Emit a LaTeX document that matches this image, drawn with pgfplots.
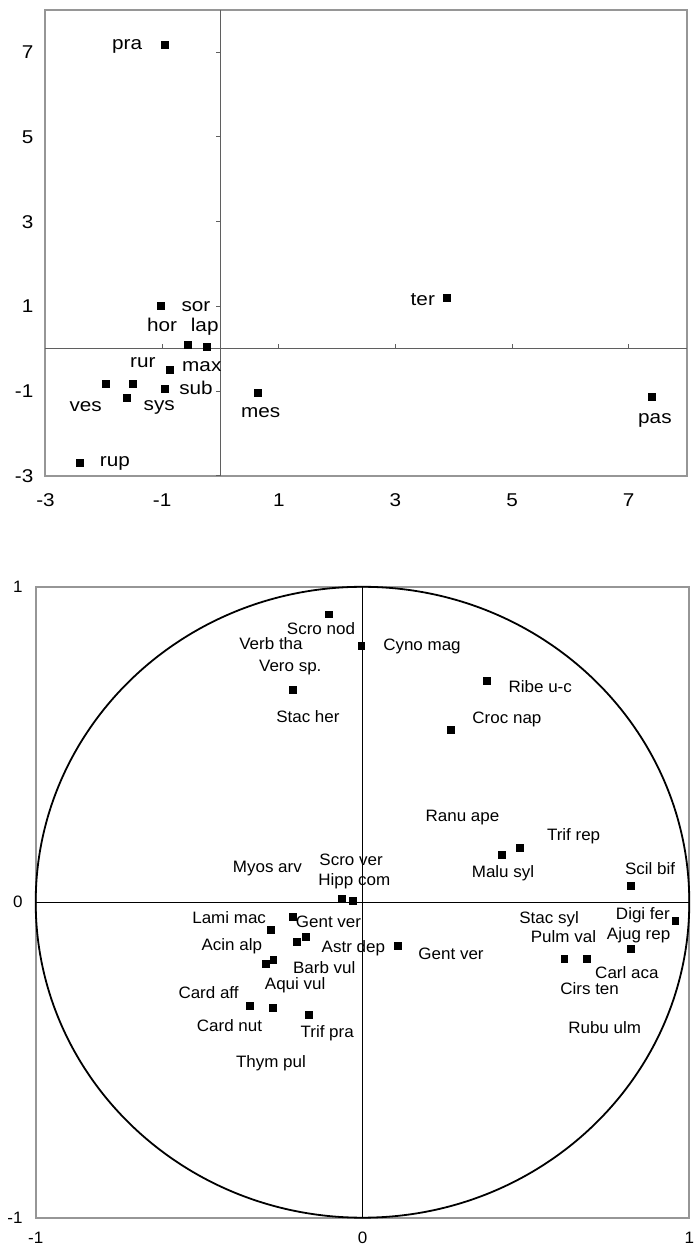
\documentclass[border=0pt]{standalone}
\usepackage{fontspec}
\setmainfont{Liberation Sans}
\newfontfamily\wideA[FakeStretch=1.12]{Liberation Sans}
\newfontfamily\wideB[FakeStretch=1.03]{Liberation Sans}
\usepackage{pgfplots}
\pgfplotsset{compat=1.18}
\definecolor{framegray}{RGB}{150,150,150}
\definecolor{zerogray}{RGB}{95,95,95}
\begin{document}
\begin{tikzpicture}[x=1pt,y=1pt,
  lblA/.style={font=\wideA\fontsize{18.5}{20}\selectfont, inner sep=0pt, anchor=center},
  lblB/.style={font=\wideB\fontsize{16.5}{19}\selectfont, inner sep=0pt, anchor=center}]
\useasboundingbox (0,0) rectangle (695,1251);
% ---------------- top chart ----------------
\begin{axis}[
  at={(45.5pt,775.3pt)}, anchor=south west,
  scale only axis, width=641.5pt, height=465.7pt,
  xmin=-3, xmax=8, ymin=-3, ymax=8,
  xtick={-3,-1,1,3,5,7}, ytick={-3,-1,1,3,5,7},
  major tick length=0pt,
  axis line style={draw=framegray, line width=2pt},
  tick label style={font=\wideA\fontsize{18.5}{20}\selectfont, inner sep=0pt},
  xticklabel style={anchor=base, yshift=-31pt},
  yticklabel style={anchor=east, xshift=-12pt},
  /pgf/number format/assume math mode=true,
  clip=false,
]
\draw[zerogray, line width=1.3pt] (axis cs:0,-3) -- (axis cs:0,8);
\draw[zerogray, line width=1.3pt] (axis cs:-3,0) -- (axis cs:8,0);
\draw[zerogray, line width=1pt] (axis cs:0,-3) -- ++(-4.5pt,0pt);
\draw[zerogray, line width=1pt] (axis cs:0,-1) -- ++(-4.5pt,0pt);
\draw[zerogray, line width=1pt] (axis cs:0,1) -- ++(-4.5pt,0pt);
\draw[zerogray, line width=1pt] (axis cs:0,3) -- ++(-4.5pt,0pt);
\draw[zerogray, line width=1pt] (axis cs:0,5) -- ++(-4.5pt,0pt);
\draw[zerogray, line width=1pt] (axis cs:0,7) -- ++(-4.5pt,0pt);
\draw[zerogray, line width=1pt] (axis cs:-1,0) -- ++(0pt,4.5pt);
\draw[zerogray, line width=1pt] (axis cs:1,0) -- ++(0pt,4.5pt);
\draw[zerogray, line width=1pt] (axis cs:3,0) -- ++(0pt,4.5pt);
\draw[zerogray, line width=1pt] (axis cs:5,0) -- ++(0pt,4.5pt);
\draw[zerogray, line width=1pt] (axis cs:7,0) -- ++(0pt,4.5pt);
\addplot[only marks, mark=square*, mark size=3.5pt, black] coordinates {
 (-0.95,7.17) (-1.02,1.02) (-0.56,0.09) (-0.23,0.05) (-0.87,-0.50)
 (-1.96,-0.83) (-1.50,-0.83) (-0.95,-0.95) (-1.60,-1.16) (-2.42,-2.70)
 (0.64,-1.04) (3.88,1.21) (7.39,-1.14)
};
\node[lblA] at (axis cs:-1.60,7.14) {pra};
\node[lblA] at (axis cs:-0.42,1.00) {sor};
\node[lblA] at (axis cs:-1.00,0.57) {hor};
\node[lblA] at (axis cs:-0.27,0.53) {lap};
\node[lblA] at (axis cs:-1.33,-0.34) {rur};
\node[lblA] at (axis cs:-0.32,-0.43) {max};
\node[lblA] at (axis cs:-0.42,-0.93) {sub};
\node[lblA] at (axis cs:-2.31,-1.36) {ves};
\node[lblA] at (axis cs:-1.05,-1.40) {sys};
\node[lblA] at (axis cs:-1.81,-2.70) {rup};
\node[lblA] at (axis cs:0.69,-1.52) {mes};
\node[lblA] at (axis cs:3.47,1.16) {ter};
\node[lblA] at (axis cs:7.45,-1.70) {pas};
\end{axis}
% ---------------- bottom chart ----------------
\begin{axis}[
  at={(35.7pt,33.3pt)}, anchor=south west,
  scale only axis, width=653.6pt, height=630.9pt,
  xmin=-1, xmax=1, ymin=-1, ymax=1,
  xtick={-1,0,1}, ytick={-1,0,1},
  major tick length=0pt,
  axis line style={draw=framegray, line width=2pt},
  tick label style={font=\wideB\fontsize{16.5}{19}\selectfont, inner sep=0pt},
  xticklabel style={anchor=base, yshift=-26pt},
  yticklabel style={anchor=east, xshift=-13pt},
  /pgf/number format/assume math mode=true,
  clip=false,
]
\draw[black, line width=0.9pt] (axis cs:0,-1) -- (axis cs:0,1);
\draw[black, line width=0.9pt] (axis cs:-1,0) -- (axis cs:1,0);
\draw[black, line width=0.9pt] (axis cs:0,-1) -- ++(4pt,0pt);
\draw[black, line width=1.8pt] (axis cs:0,0) ellipse [x radius=1, y radius=1];
\addplot[only marks, mark=square*, mark size=3.4pt, black] coordinates {
 (-0.104,0.913) (-0.004,0.814) (-0.213,0.673) (0.379,0.703) (0.270,0.546)
 (0.427,0.151) (0.481,0.172) (0.821,0.052) (0.957,-0.059) (0.821,-0.146)
 (0.617,-0.180) (0.685,-0.180) (0.107,-0.138) (-0.063,0.010) (-0.031,0.004)
 (-0.213,-0.046) (-0.280,-0.088) (-0.201,-0.124) (-0.173,-0.109)
 (-0.295,-0.195) (-0.273,-0.181) (-0.344,-0.329) (-0.275,-0.335) (-0.165,-0.357)
};
\node[lblB] at (axis cs:-0.127,0.869) {Scro nod};
\node[lblB] at (axis cs:-0.280,0.821) {Verb tha};
\node[lblB] at (axis cs:-0.221,0.745) {Vero sp.};
\node[lblB] at (axis cs:-0.167,0.587) {Stac her};
\node[lblB] at (axis cs:0.182,0.810) {Cyno mag};
\node[lblB] at (axis cs:0.544,0.684) {Ribe u-c};
\node[lblB] at (axis cs:0.442,0.580) {Croc nap};
\node[lblB] at (axis cs:0.306,0.268) {Ranu ape};
\node[lblB] at (axis cs:0.646,0.208) {Trif rep};
\node[lblB] at (axis cs:0.430,0.092) {Malu syl};
\node[lblB] at (axis cs:0.880,0.108) {Scil bif};
\node[lblB] at (axis cs:-0.291,0.108) {Myos arv};
\node[lblB] at (axis cs:-0.035,0.136) {Scro ver};
\node[lblB] at (axis cs:-0.025,0.068) {Hipp com};
\node[lblB] at (axis cs:-0.408,-0.048) {Lami mac};
\node[lblB] at (axis cs:-0.104,-0.061) {Gent ver};
\node[lblB] at (axis cs:-0.400,-0.141) {Acin alp};
\node[lblB] at (axis cs:-0.028,-0.146) {Astr dep};
\node[lblB] at (axis cs:0.271,-0.162) {Gent ver};
\node[lblB] at (axis cs:-0.117,-0.207) {Barb vul};
\node[lblB] at (axis cs:-0.206,-0.264) {Aqui vul};
\node[lblB] at (axis cs:-0.471,-0.287) {Card aff};
\node[lblB] at (axis cs:-0.407,-0.392) {Card nut};
\node[lblB] at (axis cs:-0.108,-0.415) {Trif pra};
\node[lblB] at (axis cs:-0.280,-0.509) {Thym pul};
\node[lblB] at (axis cs:0.571,-0.054) {Stac syl};
\node[lblB] at (axis cs:0.858,-0.041) {Digi fer};
\node[lblB] at (axis cs:0.615,-0.109) {Pulm val};
\node[lblB] at (axis cs:0.845,-0.106) {Ajug rep};
\node[lblB] at (axis cs:0.809,-0.223) {Carl aca};
\node[lblB] at (axis cs:0.695,-0.273) {Cirs ten};
\node[lblB] at (axis cs:0.741,-0.398) {Rubu ulm};
\end{axis}
\end{tikzpicture}
\end{document}
